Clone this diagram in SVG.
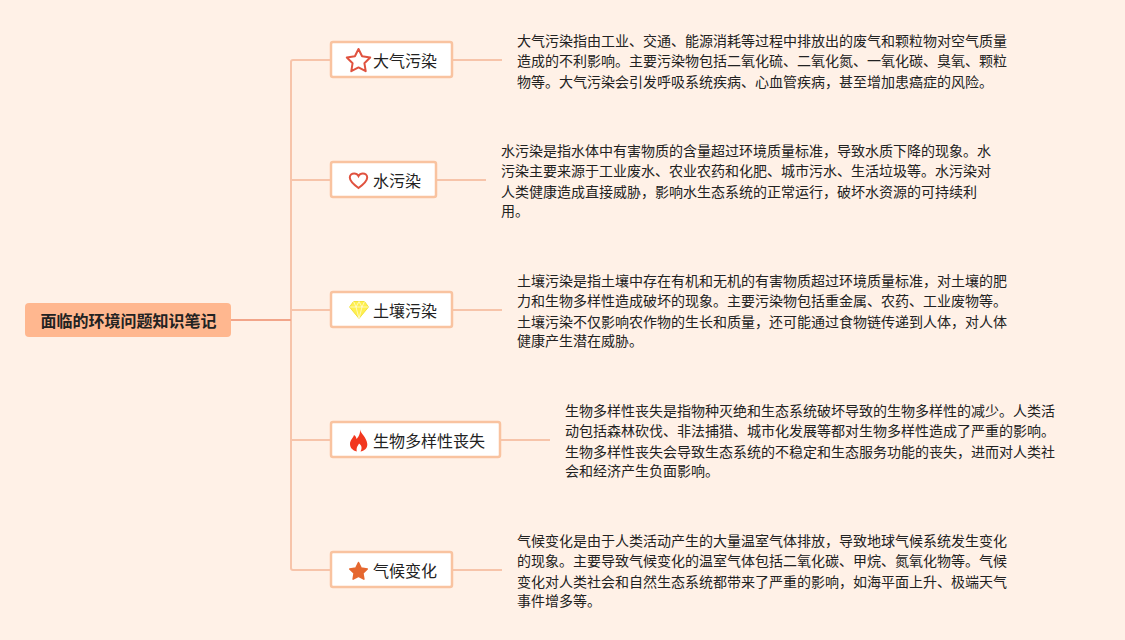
<svg xmlns="http://www.w3.org/2000/svg" width="1125" height="640" viewBox="0 0 1125 640">
<style>
text{font-family:"Noto Sans CJK SC","Noto Sans",sans-serif;fill:#222}
.d{font-size:14px}
.l{font-size:16px}
.box{fill:#fff;stroke:#f9c3a0;stroke-width:2.500}
.c{fill:none;stroke:#f7c4aa;stroke-width:2}
.r{fill:none;stroke:#f2a58a;stroke-width:2}
</style>
<rect width="1125" height="640" fill="#fff1e7"/>
<g id="connectors">
<path class="c" d="M330 60H293Q291 60 291 62V568Q291 570 293 570H330"/>
<path class="c" d="M291 180H330M291 310H330M291 440H330"/>
<path class="c" d="M453 60H502M437 180H486M453 310H502M501 440H550M453 570H502"/>
<path class="r" d="M231 320H291"/>
</g>
<g id="root"><rect x="25" y="303" width="206" height="34" rx="4" fill="#ffb78f"/><text x="40.500" y="327" style="font-size:16px;font-weight:700">面临的环境问题知识笔记</text></g>
<g id="n1"><rect class="box" x="331" y="42" width="121" height="35" rx="2"/>
<path d="M358.500 49L362.100 56.300L370.200 57.500L364.400 63.200L365.700 71.200L358.500 67.400L351.300 71.200L352.600 63.200L346.800 57.500L354.900 56.300Z" fill="none" stroke="#e0523f" stroke-width="2" stroke-linejoin="round"/>
<text class="l" x="373" y="67">大气污染</text>
<text class="d" x="517" y="46">大气污染指由工业、交通、能源消耗等过程中排放出的废气和颗粒物对空气质量</text>
<text class="d" x="517" y="66">造成的不利影响。主要污染物包括二氧化硫、二氧化氮、一氧化碳、臭氧、颗粒</text>
<text class="d" x="517" y="87">物等。大气污染会引发呼吸系统疾病、心血管疾病，甚至增加患癌症的风险。</text></g>
<g id="n2"><rect class="box" x="331" y="162" width="105" height="35" rx="2"/>
<path d="M358.500 188C353 184 349.800 180.500 349.800 177.500C349.800 175 351.800 173.500 354.200 173.500C356 173.500 357.700 174.500 358.500 176C359.300 174.500 361 173.500 362.800 173.500C365.200 173.500 367.200 175 367.200 177.500C367.200 180.500 364 184 358.500 188Z" fill="none" stroke="#e0523f" stroke-width="2"/>
<text class="l" x="373" y="187">水污染</text>
<text class="d" x="501" y="156">水污染是指水体中有害物质的含量超过环境质量标准，导致水质下降的现象。水</text>
<text class="d" x="501" y="176">污染主要来源于工业废水、农业农药和化肥、城市污水、生活垃圾等。水污染对</text>
<text class="d" x="501" y="197">人类健康造成直接威胁，影响水生态系统的正常运行，破坏水资源的可持续利</text>
<text class="d" x="501" y="216">用。</text></g>
<g id="n3"><rect class="box" x="331" y="292" width="121" height="35" rx="2"/>
<path d="M353.500 301.500H364.500L368.500 307L359 318.500L349.500 307Z" fill="#fff04f" stroke="#f2e23c" stroke-width="1"/>
<path d="M349.500 307H368.500M353.500 301.500L356 307L359 318.500L362 307L364.500 301.500M356 307L359 301.500L362 307" fill="none" stroke="#fff" stroke-width=".6"/>
<text class="l" x="373" y="317">土壤污染</text>
<text class="d" x="517" y="286">土壤污染是指土壤中存在有机和无机的有害物质超过环境质量标准，对土壤的肥</text>
<text class="d" x="517" y="306">力和生物多样性造成破坏的现象。主要污染物包括重金属、农药、工业废物等。</text>
<text class="d" x="517" y="327">土壤污染不仅影响农作物的生长和质量，还可能通过食物链传递到人体，对人体</text>
<text class="d" x="517" y="346">健康产生潜在威胁。</text></g>
<g id="n4"><rect class="box" x="331" y="422" width="169" height="35" rx="2"/>
<path d="M360 429.500C361 434 366.500 437 367.300 444C367.600 448.500 364 451 360.500 451.500C362.500 448 361.500 445 359 443.500C358.300 445.500 356 447 356.800 451.500C352.500 450.500 350 447.500 350 444C350 440 353 438.500 354 435C355.500 436 356.500 437.500 356.500 439C358.500 437 360.500 433.500 360 429.500Z" fill="#f2371f"/>
<text class="l" x="373" y="447">生物多样性丧失</text>
<text class="d" x="565" y="416">生物多样性丧失是指物种灭绝和生态系统破坏导致的生物多样性的减少。人类活</text>
<text class="d" x="565" y="436">动包括森林砍伐、非法捕猎、城市化发展等都对生物多样性造成了严重的影响。</text>
<text class="d" x="565" y="457">生物多样性丧失会导致生态系统的不稳定和生态服务功能的丧失，进而对人类社</text>
<text class="d" x="565" y="476">会和经济产生负面影响。</text></g>
<g id="n5"><rect class="box" x="331" y="552" width="121" height="35" rx="2"/>
<path d="M358.500 562.500L361.200 568L367.300 568.900L362.900 573.200L363.900 579.200L358.500 576.300L353.100 579.200L354.100 573.200L349.700 568.900L355.800 568Z" fill="#e5672f" stroke="#e5672f" stroke-width="1.500" stroke-linejoin="round"/>
<text class="l" x="373" y="577">气候变化</text>
<text class="d" x="517" y="546">气候变化是由于人类活动产生的大量温室气体排放，导致地球气候系统发生变化</text>
<text class="d" x="517" y="566">的现象。主要导致气候变化的温室气体包括二氧化碳、甲烷、氮氧化物等。气候</text>
<text class="d" x="517" y="587">变化对人类社会和自然生态系统都带来了严重的影响，如海平面上升、极端天气</text>
<text class="d" x="517" y="606">事件增多等。</text></g>
</svg>
